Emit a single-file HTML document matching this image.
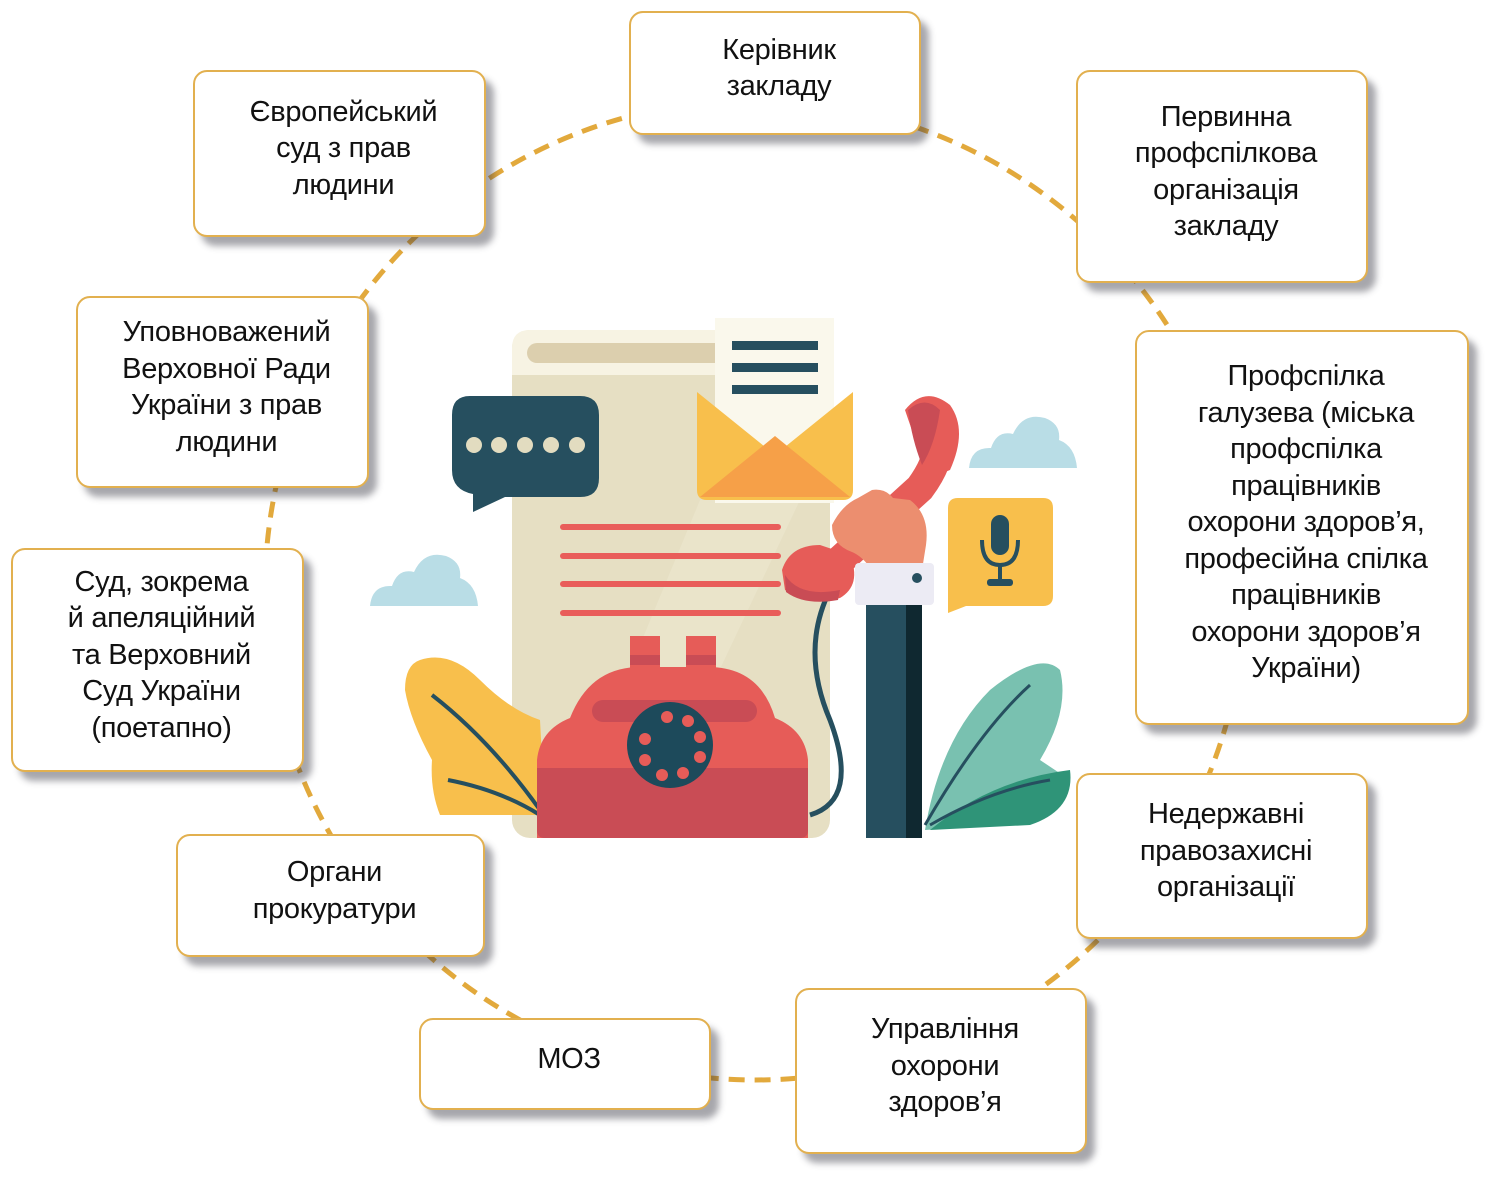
<!DOCTYPE html>
<html><head><meta charset="utf-8"><style>
html,body{margin:0;padding:0;background:#fff;}
body{width:1500px;height:1182px;position:relative;overflow:hidden;font-family:"Liberation Sans",sans-serif;}
.b{position:absolute;box-sizing:border-box;background:#fff;border:2px solid #e2b04f;border-radius:14px;box-shadow:8px 9px 7px rgba(60,60,70,.45);display:flex;align-items:center;justify-content:center;text-align:center;font-size:29px;line-height:36.5px;color:#111;padding-bottom:10px;padding-left:8px;letter-spacing:-0.3px;}
svg{position:absolute;left:0;top:0;}
</style></head><body>
<svg width="1500" height="1182" viewBox="0 0 1500 1182">
<circle cx="755" cy="590" r="490" fill="none" stroke="#e2a93c" stroke-width="5" stroke-dasharray="16 10"/>
<g fill="#b9dde6">
<path d="M370 606 Q372 585 392 586 Q398 568 414 572 Q424 550 446 556 Q462 562 460 578 Q476 584 478 606 Z"/>
<path d="M969 468 Q971 447 991 448 Q997 430 1013 434 Q1023 412 1045 418 Q1061 424 1059 440 Q1075 446 1077 468 Z"/>
</g>
<rect x="512" y="330" width="318" height="508" rx="18" fill="#e6dfc3"/>
<path d="M512 348 Q512 330 530 330 L830 330 L830 375 L512 375 Z" fill="#f7f3e3"/>
<rect x="527" y="343" width="200" height="20" rx="10" fill="#dccfae"/>
<path d="M700 500 L800 500 L640 838 L560 838 Z" fill="#ebe5cd" opacity=".7"/>
<rect x="715" y="318" width="119" height="185" fill="#faf8ec"/>
<rect x="732" y="341" width="86" height="9" fill="#264f5f"/>
<rect x="732" y="363" width="86" height="9" fill="#264f5f"/>
<rect x="732" y="385" width="86" height="9" fill="#264f5f"/>
<path d="M697 392 L775 455 L853 392 L853 490 Q853 500 843 500 L707 500 Q697 500 697 490 Z" fill="#f8bf4c"/>
<path d="M700 497 L775 436 L850 497 Z" fill="#f6a048"/>
<g stroke="#e95d5a" stroke-width="6" stroke-linecap="round">
<line x1="563" y1="527" x2="778" y2="527"/><line x1="563" y1="556" x2="778" y2="556"/>
<line x1="563" y1="584" x2="778" y2="584"/><line x1="563" y1="613" x2="778" y2="613"/>
</g>
<path d="M470 396 L580 396 Q599 396 599 415 L599 478 Q599 497 580 497 L505 497 L473 512 L473 494 Q452 490 452 470 L452 415 Q452 396 470 396 Z" fill="#264f5f"/>
<g fill="#e2dcc0"><circle cx="474" cy="445" r="8"/><circle cx="499" cy="445" r="8"/><circle cx="525" cy="445" r="8"/><circle cx="551" cy="445" r="8"/><circle cx="577" cy="445" r="8"/></g>
<path d="M420 660 Q450 650 480 680 Q510 710 540 720 L545 815 L440 815 Q430 790 432 760 Q410 720 405 690 Q405 665 420 660 Z" fill="#f8bf4c"/>
<path d="M432 695 Q490 740 540 810 M448 780 Q500 790 540 815" stroke="#264f5f" stroke-width="4" fill="none"/>
<path d="M925 830 Q940 740 990 690 Q1040 650 1060 670 Q1070 710 1040 760 L1070 780 Q1070 820 1000 825 Z" fill="#79c1b0"/>
<path d="M930 830 Q990 780 1070 770 Q1075 810 1030 825 Z" fill="#2f9478"/>
<path d="M925 825 Q980 730 1030 685 M930 825 Q990 790 1050 780" stroke="#264f5f" stroke-width="3" fill="none"/>
<path d="M830 590 Q800 650 830 720 Q860 800 810 815" stroke="#264f5f" stroke-width="5" fill="none"/>
<rect x="630" y="636" width="30" height="32" fill="#e65c58"/><rect x="686" y="636" width="30" height="32" fill="#e65c58"/>
<rect x="630" y="655" width="30" height="10" fill="#c94c55"/><rect x="686" y="655" width="30" height="10" fill="#c94c55"/>
<path d="M537 838 L537 760 Q540 730 570 718 Q590 667 640 667 L708 667 Q760 667 775 718 Q805 730 808 760 L808 838 Z" fill="#e65c58"/>
<rect x="592" y="700" width="165" height="22" rx="11" fill="#c94c55"/>
<path d="M537 768 L808 768 L808 830 Q808 838 800 838 L545 838 Q537 838 537 830 Z" fill="#c94c55"/>
<circle cx="670" cy="745" r="43" fill="#1d4a5b"/>
<g fill="#e65c58"><circle cx="667" cy="717" r="6"/><circle cx="688" cy="721" r="6"/><circle cx="700" cy="737" r="6"/><circle cx="700" cy="757" r="6"/><circle cx="683" cy="773" r="6"/><circle cx="662" cy="775" r="6"/><circle cx="645" cy="760" r="6"/><circle cx="645" cy="739" r="6"/></g>
<!-- handset -->
<path d="M935 420 Q948 450 920 488 L835 565" stroke="#e65c58" stroke-width="30" fill="none" stroke-linecap="round"/>
<path d="M905 410 Q925 385 950 405 Q968 430 950 470 L930 478 Q915 440 905 410 Z" fill="#e65c58"/>
<path d="M908 410 Q925 395 940 410 Q935 445 922 465 Q912 440 908 410 Z" fill="#c94c55"/>
<path d="M782 570 Q790 545 820 545 L850 555 Q862 585 840 598 Q808 605 785 590 Z" fill="#e65c58"/>
<path d="M785 575 Q800 598 840 590 L838 600 Q805 606 786 592 Z" fill="#c94c55"/>
<!-- hand -->
<path d="M832 525 Q842 505 858 498 L872 490 Q885 488 893 498 L910 500 Q930 515 926 545 L922 570 L872 570 Q862 556 852 552 Q832 545 832 525 Z" fill="#ec8e6f"/>
<rect x="866" y="600" width="56" height="238" fill="#264f5f"/>
<rect x="906" y="600" width="16" height="238" fill="#0f2830"/>
<rect x="855" y="563" width="79" height="42" rx="4" fill="#ecebf4"/>
<circle cx="917" cy="578" r="5" fill="#264f5f"/>
<path d="M958 498 L1043 498 Q1053 498 1053 508 L1053 596 Q1053 606 1043 606 L966 606 L948 613 L948 508 Q948 498 958 498 Z" fill="#f8bf4c"/>
<rect x="991" y="515" width="18" height="40" rx="9" fill="#264f5f"/>
<path d="M982 540 Q982 565 1000 565 Q1018 565 1018 540" stroke="#264f5f" stroke-width="4" fill="none"/>
<line x1="1000" y1="565" x2="1000" y2="582" stroke="#264f5f" stroke-width="4"/>
<rect x="987" y="579" width="26" height="7" rx="3" fill="#264f5f"/>
</svg>
<div class="b" style="left:629px;top:11px;width:292px;height:124px;">Керівник<br>закладу</div>
<div class="b" style="left:193px;top:70px;width:293px;height:167px;">Європейський<br>суд з прав<br>людини</div>
<div class="b" style="left:1076px;top:70px;width:292px;height:213px;">Первинна<br>профспілкова<br>організація<br>закладу</div>
<div class="b" style="left:76px;top:296px;width:293px;height:192px;">Уповноважений<br>Верховної Ради<br>України з прав<br>людини</div>
<div class="b" style="left:1135px;top:330px;width:334px;height:395px;">Профспілка<br>галузева (міська<br>профспілка<br>працівників<br>охорони здоров’я,<br>професійна спілка<br>працівників<br>охорони здоров’я<br>України)</div>
<div class="b" style="left:11px;top:548px;width:293px;height:224px;">Суд, зокрема<br>й апеляційний<br>та Верховний<br>Суд України<br>(поетапно)</div>
<div class="b" style="left:176px;top:834px;width:309px;height:123px;">Органи<br>прокуратури</div>
<div class="b" style="left:1076px;top:773px;width:292px;height:166px;">Недержавні<br>правозахисні<br>організації</div>
<div class="b" style="left:419px;top:1018px;width:292px;height:92px;">МОЗ</div>
<div class="b" style="left:795px;top:988px;width:292px;height:166px;">Управління<br>охорони<br>здоров’я</div>
</body></html>
